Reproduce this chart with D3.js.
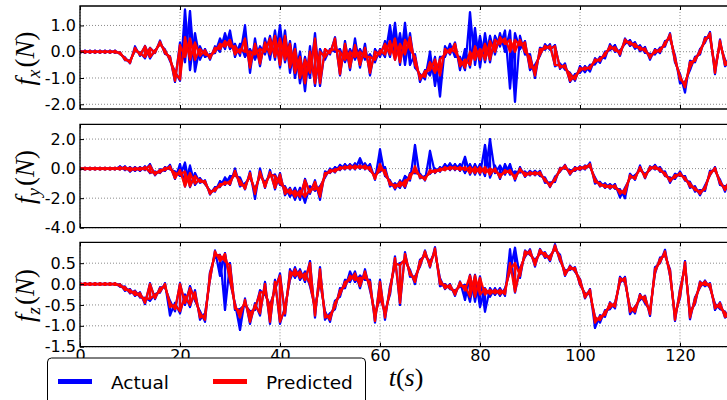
<!DOCTYPE html>
<html>
<head>
<meta charset="utf-8">
<script src="https://cdn.jsdelivr.net/npm/d3@7"></script>
<style>
  html, body { margin: 0; padding: 0; background: #fff; }
  svg { display: block; overflow: hidden; }
</style>
</head>
<body>
<div id="container"></div>
<script>
// time axis, one sample per second
const times = d3.range(0, 131);

const xTicks = [0, 20, 40, 60, 80, 100, 120];
const fxTicks = [1.0, 0.0, -1.0, -2.0];
const fyTicks = [2.0, 0.0, -2.0, -4.0];
const fzTicks = [0.5, 0.0, -0.5, -1.0, -1.5];

// f_x : band (low / high) of the predicted and actual force
const fxPredLo = [-0.03,-0.03,-0.03,-0.03,-0.03,-0.03,-0.03,-0.03,-0.08,-0.3,
  -0.42,0.05,-0.12,-0.2,-0.2,-0.03,0.3,-0.05,-0.3,-1.1,
  -1.05,-0.2,-0.3,-0.3,-0.15,-0.1,-0.25,0.0,0.1,0.2,
  0.2,-0.1,-0.05,0.0,-0.6,-0.1,-0.45,0.0,-0.1,-0.2,
  -0.5,-0.3,-0.6,-0.8,-1.0,-1.2,-0.8,-1.2,-1.2,-0.2,
  -0.05,0.1,-0.85,-0.3,-0.6,-0.2,-0.5,-0.2,-0.8,-0.3,
  -0.1,-0.1,-0.1,-0.3,-0.4,-0.1,0.1,-0.5,-1.05,-0.95,
  -0.7,-0.8,-0.9,-0.1,-0.05,0.0,-0.55,-0.6,-0.5,-0.3,
  -0.3,-0.3,-0.3,0.0,0.3,0.3,0.0,0.0,0.25,0.0,
  -0.6,-0.9,-0.1,0.12,0.12,-0.5,-0.6,-0.62,-1.1,-1.05,
  -0.72,-0.68,-0.65,-0.38,-0.34,-0.15,0.12,0.05,-0.1,0.36,
  0.28,0.18,0.08,0.02,-0.24,-0.04,0.0,0.25,0.56,-0.35,
  -1.05,-1.35,-0.6,-0.35,-0.05,0.4,0.58,-0.8,0.32,-0.5,-0.55];
const fxPredHi = [0.03,0.03,0.03,0.03,0.03,0.03,0.03,0.03,-0.03,-0.24,
  -0.36,0.15,-0.05,0.2,0.13,0.03,0.38,0.05,-0.2,-0.8,
  0.25,0.55,0.5,0.35,0.1,0.05,-0.15,0.15,0.3,0.4,
  0.45,0.2,0.1,0.5,0.0,0.3,0.1,0.35,0.5,0.6,
  0.5,0.6,0.3,0.1,-0.2,-0.3,0.0,0.5,0.0,0.1,
  0.05,0.5,0.0,0.3,0.0,0.25,0.0,0.15,-0.2,0.0,
  0.05,0.3,0.4,0.5,0.3,0.45,0.55,-0.2,-0.9,-0.75,
  -0.4,-0.3,-0.3,0.1,0.1,0.3,-0.3,-0.3,0.0,0.2,
  0.1,0.3,0.4,0.45,0.55,0.5,0.45,0.45,0.45,0.35,
  -0.2,-0.6,0.1,0.22,0.22,0.2,-0.52,-0.52,-0.85,-0.92,
  -0.62,-0.6,-0.57,-0.3,-0.26,-0.05,0.22,0.17,0.0,0.46,
  0.38,0.3,0.18,0.12,-0.14,0.06,0.1,0.35,0.66,-0.22,
  -0.92,-1.2,-0.4,-0.25,0.05,0.5,0.7,-0.65,0.42,-0.35,-0.45];
const fxActLo = [-0.04,-0.04,-0.04,-0.04,-0.04,-0.04,-0.04,-0.04,-0.09,-0.32,
  -0.44,0.03,-0.15,-0.25,-0.25,-0.05,0.28,-0.08,-0.35,-1.15,
  -1.1,-0.4,-0.7,-0.75,-0.3,-0.2,-0.3,-0.05,0.0,0.1,
  0.1,-0.2,-0.15,-0.2,-0.8,-0.3,-0.55,-0.1,-0.3,-0.3,
  -0.6,-0.4,-0.8,-1.0,-1.2,-1.5,-1.0,-1.3,-1.3,-0.3,
  -0.1,0.0,-0.9,-0.4,-0.7,-0.3,-0.6,-0.3,-0.9,-0.4,
  -0.2,-0.2,-0.2,-0.3,-0.5,-0.5,-0.5,-0.6,-1.15,-1.05,
  -0.9,-1.3,-1.7,-0.2,-0.1,-0.2,-0.7,-0.7,-0.6,-0.5,
  -0.6,-0.4,-0.4,-0.1,0.2,0.0,-1.4,-1.9,0.1,-0.1,
  -0.7,-1.0,-0.15,0.08,0.08,-0.55,-0.65,-0.68,-1.15,-1.1,
  -0.8,-0.78,-0.75,-0.48,-0.42,-0.25,0.06,0.0,-0.15,0.3,
  0.22,0.12,0.02,-0.04,-0.3,-0.1,-0.05,0.2,0.5,-0.4,
  -1.2,-1.55,-0.7,-0.4,-0.1,0.35,0.52,-0.85,0.28,-0.55,-0.6];
const fxActHi = [0.04,0.04,0.04,0.04,0.04,0.04,0.04,0.04,-0.02,-0.22,
  -0.34,0.2,-0.03,0.22,0.15,0.05,0.42,0.08,-0.18,-0.75,
  0.35,1.6,1.55,0.7,0.2,0.1,-0.1,0.2,0.5,0.7,
  0.8,0.3,0.3,1.0,0.1,0.5,0.2,0.5,0.6,0.8,
  1.0,0.8,0.4,0.3,0.0,-0.2,0.2,0.7,0.1,0.1,
  0.1,0.55,0.1,0.4,0.1,0.5,0.1,0.3,-0.1,0.1,
  0.1,0.4,1.0,1.1,0.7,1.1,0.7,-0.1,-0.85,-0.7,
  0.0,-0.2,-0.2,0.2,0.3,0.35,-0.2,0.1,1.5,0.9,
  0.6,0.7,0.6,0.6,0.7,0.8,0.8,0.7,0.6,0.4,
  -0.1,-0.5,0.15,0.28,0.28,0.25,-0.45,-0.45,-0.8,-0.85,
  -0.55,-0.55,-0.5,-0.25,-0.2,0.0,0.28,0.25,0.05,0.5,
  0.44,0.36,0.24,0.18,-0.08,0.1,0.15,0.4,0.7,-0.15,
  -0.85,-1.15,-0.35,-0.2,0.1,0.55,0.75,-0.6,0.46,-0.3,-0.4];

// f_y
const fyPredLo = [-0.05,-0.05,-0.05,-0.05,-0.05,-0.05,-0.05,-0.05,-0.05,-0.05,
  -0.15,-0.1,-0.1,-0.05,-0.25,-0.4,-0.25,-0.1,0.0,-0.65,
  -0.4,-1.2,-1.2,-1.0,-0.9,-1.0,-1.7,-1.5,-1.2,-1.05,
  -1.05,-0.4,-1.1,-1.35,-0.5,-1.7,-0.4,-1.25,-0.4,-1.3,
  -1.0,-1.7,-1.7,-1.9,-1.9,-1.9,-1.6,-1.4,-1.9,-0.5,
  -0.25,-0.2,-0.05,0.0,0.0,0.0,0.05,0.0,-0.1,-0.7,
  -0.1,-0.4,-1.1,-1.3,-1.2,-1.2,-0.7,-0.2,-0.6,-0.75,
  -0.3,-0.25,-0.15,-0.1,-0.05,-0.05,-0.1,-0.1,-0.3,-0.3,
  -0.3,-0.3,-0.4,-0.2,-0.6,-0.3,-0.3,-0.7,-0.15,-0.5,
  -0.4,-0.4,-0.4,-0.85,-1.2,-0.8,-0.15,0.05,-0.35,-0.1,
  -0.05,0.0,0.15,-0.9,-1.15,-1.25,-1.3,-1.3,-1.7,-1.7,
  -0.6,-0.7,-0.05,-0.6,-0.05,0.0,-0.15,-0.45,-0.85,-0.6,
  -0.45,-0.75,-1.2,-1.45,-1.7,-1.4,-0.4,-0.1,-1.0,-1.45,-0.9];
const fyPredHi = [0.05,0.05,0.05,0.05,0.05,0.05,0.05,0.05,0.1,0.1,
  0.05,0.05,0.05,0.1,0.2,-0.25,-0.1,0.05,0.15,-0.3,
  -0.1,-0.2,-0.3,-0.5,-0.75,-0.85,-1.55,-1.35,-1.05,-0.9,
  -0.85,-0.15,-0.8,-1.15,-0.3,-1.5,-0.2,-1.05,-0.25,-0.5,
  -0.4,-1.3,-1.4,-1.5,-1.5,-0.8,-1.4,-0.9,-1.3,-0.3,
  -0.1,-0.05,0.1,0.15,0.2,0.2,0.2,0.2,0.1,-0.5,
  0.3,-0.1,-0.9,-1.1,-0.9,-0.8,-0.4,0.15,-0.45,-0.6,
  -0.1,-0.1,0.0,0.1,0.12,0.12,0.1,0.1,0.1,0.1,
  0.1,0.1,0.0,0.0,-0.4,-0.1,-0.1,-0.5,0.0,-0.3,
  -0.25,-0.25,-0.25,-0.7,-1.05,-0.65,0.0,0.2,-0.2,0.05,
  0.1,0.15,0.3,-0.7,-1.0,-1.1,-1.15,-1.15,-1.5,-1.4,
  -0.45,-0.55,0.1,-0.45,0.1,0.15,0.0,-0.3,-0.7,-0.45,
  -0.3,-0.6,-1.0,-1.3,-1.55,-1.25,-0.25,0.05,-0.85,-1.3,-0.75];
const fyActLo = [-0.05,-0.05,-0.05,-0.05,-0.05,-0.05,-0.05,-0.05,-0.05,-0.1,
  -0.2,-0.15,-0.15,-0.1,-0.3,-0.45,-0.3,-0.15,-0.05,-0.7,
  -0.5,-1.2,-1.25,-1.1,-0.95,-1.05,-1.75,-1.55,-1.25,-1.1,
  -1.1,-0.5,-1.2,-1.4,-0.6,-2.05,-0.5,-1.3,-0.5,-1.4,
  -1.1,-1.8,-1.9,-2.1,-2.1,-2.3,-1.7,-1.5,-2.1,-0.6,
  -0.3,-0.25,-0.1,-0.05,-0.05,-0.05,0.0,-0.05,-0.15,-0.75,
  -0.2,-0.5,-1.2,-1.4,-1.3,-1.3,-0.8,-0.3,-0.65,-0.8,
  -0.35,-0.3,-0.2,-0.1,-0.1,-0.1,-0.15,-0.3,-0.4,-0.4,
  -0.4,-0.5,-0.6,-0.3,-0.7,-0.4,-0.4,-0.8,-0.25,-0.55,
  -0.45,-0.45,-0.5,-0.95,-1.25,-0.9,-0.2,0.0,-0.4,-0.15,
  -0.1,-0.05,0.1,-1.0,-1.2,-1.3,-1.35,-1.35,-1.95,-2.0,
  -0.65,-0.75,-0.1,-0.65,-0.1,-0.05,-0.2,-0.5,-0.95,-0.7,
  -0.5,-0.8,-1.3,-1.55,-1.8,-1.5,-0.45,-0.15,-1.1,-1.55,-1.0];
const fyActHi = [0.05,0.05,0.05,0.05,0.05,0.05,0.05,0.05,0.15,0.15,
  0.1,0.1,0.1,0.15,0.3,-0.2,-0.05,0.1,0.25,-0.2,
  0.3,0.4,0.2,-0.3,-0.65,-0.8,-1.5,-1.25,-0.85,-0.6,
  -0.5,0.0,-0.6,-1.0,-0.2,-1.4,0.0,-0.9,-0.1,-0.4,
  -0.3,-1.2,-1.3,-1.3,-1.3,-0.7,-1.2,-0.8,-1.2,-0.2,
  0.0,0.1,0.25,0.3,0.3,0.35,0.7,0.35,0.3,-0.4,
  1.3,0.1,-0.8,-1.0,-0.8,-0.5,-0.3,1.6,-0.35,-0.5,
  1.2,0.0,0.1,0.3,0.35,0.3,0.3,0.8,0.3,0.3,
  0.3,1.6,2.0,0.2,0.2,0.3,0.3,-0.2,0.1,-0.2,
  -0.15,-0.15,-0.15,-0.6,-0.95,-0.55,0.05,0.25,-0.1,0.1,
  0.15,0.2,0.4,-0.6,-0.9,-1.0,-1.05,-1.05,-1.4,-1.3,
  -0.35,-0.45,0.2,-0.35,0.15,0.25,0.1,-0.2,-0.6,-0.35,
  -0.2,-0.5,-0.9,-1.2,-1.45,-1.15,-0.15,0.1,-0.75,-1.2,-0.65];

// f_z
const fzPredLo = [-0.02,-0.02,-0.02,-0.02,-0.02,-0.02,-0.02,-0.02,-0.05,-0.14,
  -0.2,-0.26,-0.3,-0.45,-0.35,-0.34,-0.18,-0.06,-0.55,-0.6,
  -0.65,-0.45,-0.5,-0.35,-0.8,-0.85,0.12,0.7,0.55,0.55,
  0.1,-0.58,-0.8,-0.46,-0.9,-0.58,-0.7,-0.2,-0.9,-0.1,
  -0.9,-0.7,0.15,0.2,0.15,0.1,0.0,-0.75,0.1,-0.8,
  -0.85,-0.55,-0.25,-0.05,0.1,0.1,-0.05,0.15,-0.1,-0.88,
  -0.3,-0.8,-0.2,0.5,-0.45,0.6,0.22,0.05,0.45,0.7,
  0.42,0.78,0.0,-0.1,-0.1,-0.25,-0.04,-0.15,-0.3,-0.3,
  -0.25,-0.25,-0.24,-0.22,-0.24,-0.24,0.35,-0.18,0.2,0.68,
  0.72,0.45,0.74,0.66,0.58,0.85,0.58,0.22,0.36,0.32,
  0.0,-0.32,-0.22,-0.92,-0.86,-0.74,-0.56,-0.54,0.06,0.06,
  -0.66,-0.66,-0.34,-0.42,-0.72,0.28,0.52,0.7,0.22,-0.85,
  -0.3,0.42,-0.8,-0.45,-0.06,-0.02,-0.08,-0.58,-0.56,-0.78,-0.85];
const fzPredHi = [0.02,0.02,0.02,0.02,0.02,0.02,0.02,0.02,-0.01,-0.08,
  -0.14,-0.18,-0.22,-0.35,0.0,-0.26,-0.1,0.0,-0.45,-0.5,
  0.0,-0.3,-0.1,-0.2,-0.7,-0.75,0.25,0.78,0.68,0.72,
  0.45,-0.5,-0.65,-0.38,-0.7,-0.5,-0.2,0.0,-0.55,0.05,
  0.2,-0.6,0.3,0.35,0.3,0.25,0.5,-0.6,0.35,-0.7,
  -0.75,-0.45,-0.15,0.05,0.2,0.25,0.15,0.3,0.05,-0.75,
  0.05,-0.7,-0.1,0.62,0.45,0.72,0.3,0.15,0.55,0.78,
  0.5,0.85,0.1,-0.02,-0.02,-0.17,0.04,-0.05,0.2,0.2,
  0.15,-0.12,-0.14,-0.14,-0.14,-0.14,0.5,0.5,0.35,0.78,
  0.8,0.55,0.82,0.74,0.66,0.92,0.66,0.3,0.42,0.38,
  0.1,-0.24,-0.14,-0.8,-0.78,-0.66,-0.46,-0.46,0.14,0.14,
  -0.56,-0.56,-0.26,-0.3,-0.64,0.36,0.6,0.78,0.32,-0.75,
  -0.15,0.52,-0.7,-0.35,0.04,0.06,0.0,-0.5,-0.46,-0.68,-0.76];
const fzActLo = [-0.02,-0.02,-0.02,-0.02,-0.02,-0.02,-0.02,-0.02,-0.06,-0.16,
  -0.22,-0.28,-0.32,-0.48,-0.4,-0.36,-0.2,-0.08,-0.75,-0.65,
  -0.7,-0.5,-0.55,-0.4,-0.85,-0.9,0.1,0.68,0.2,-0.62,
  0.05,-0.62,-1.1,-0.5,-0.95,-0.62,-0.75,-0.25,-0.95,-0.15,
  -0.95,-0.75,0.1,0.15,0.1,0.05,-0.05,-0.8,0.05,-0.85,
  -0.9,-0.6,-0.3,-0.1,0.05,0.05,-0.1,0.1,-0.15,-0.92,
  -0.35,-0.85,-0.25,0.45,-0.5,0.55,0.18,0.0,0.42,0.68,
  0.4,0.76,-0.05,-0.12,-0.12,-0.28,-0.06,-0.38,-0.42,-0.42,
  -0.55,-0.66,-0.3,-0.26,-0.28,-0.28,0.3,-0.2,0.15,0.65,
  0.7,0.42,0.72,0.63,0.55,0.83,0.55,0.2,0.34,0.3,
  -0.02,-0.34,-0.25,-1.05,-0.92,-0.78,-0.6,-0.58,0.03,0.03,
  -0.72,-0.7,-0.38,-0.46,-0.76,0.25,0.5,0.68,0.2,-0.88,
  -0.33,0.4,-0.84,-0.48,-0.08,-0.05,-0.1,-0.62,-0.6,-0.8,-0.88];
const fzActHi = [0.02,0.02,0.02,0.02,0.02,0.02,0.02,0.02,0.0,-0.06,
  -0.12,-0.16,-0.2,-0.33,0.02,-0.24,-0.08,0.02,-0.4,-0.45,
  0.02,-0.25,-0.05,-0.15,-0.65,-0.7,0.28,0.8,0.7,0.74,
  0.5,-0.46,-0.6,-0.35,-0.65,-0.46,-0.15,0.05,-0.5,0.1,
  0.25,-0.55,0.35,0.4,0.35,0.3,0.55,-0.55,0.4,-0.65,
  -0.7,-0.4,-0.1,0.1,0.3,0.3,0.2,0.35,0.1,-0.7,
  0.1,-0.65,-0.05,0.66,0.5,0.76,0.34,0.18,0.58,0.8,
  0.54,0.88,0.14,0.0,0.0,-0.15,0.06,-0.02,0.22,0.22,
  0.18,-0.1,-0.1,-0.1,-0.1,-0.1,0.83,0.87,0.38,0.8,
  0.83,0.58,0.84,0.76,0.68,0.95,0.7,0.33,0.44,0.4,
  0.12,-0.22,-0.12,-0.78,-0.75,-0.63,-0.44,-0.44,0.17,0.17,
  -0.54,-0.54,-0.24,-0.28,-0.62,0.4,0.63,0.82,0.35,-0.72,
  -0.12,0.55,-0.66,-0.32,0.06,0.08,0.02,-0.47,-0.44,-0.66,-0.74];

// ukuran dan posisi panel
const width = 727;
const height = 400;
const left = 80;

const panels = [
  { id: "fx", sub: "x", top: 6, bottom: 109, domain: [-2.18, 1.74], ticks: fxTicks,
    predLo: fxPredLo, predHi: fxPredHi, actLo: fxActLo, actHi: fxActHi },
  { id: "fy", sub: "y", top: 124.3, bottom: 227.7, domain: [-4, 3], ticks: fyTicks,
    predLo: fyPredLo, predHi: fyPredHi, actLo: fyActLo, actHi: fyActHi },
  { id: "fz", sub: "z", top: 242.3, bottom: 346.7, domain: [-1.5, 1.0], ticks: fzTicks,
    predLo: fzPredLo, predHi: fzPredHi, actLo: fzActLo, actHi: fzActHi }
];

const svg = d3
  .select("#container")
  .append("svg")
  .attr("width", width)
  .attr("height", height);

const xScale = d3.scaleLinear().domain([0, 130]).range([left, 730]);
const fmt = (d) => d.toFixed(1);

panels.forEach((p, k) => {
  const yScale = d3.scaleLinear().domain(p.domain).range([p.bottom, p.top]);
  const g = svg.append("g").attr("id", p.id);

  // grid titik-titik
  g.append("g")
    .selectAll("line")
    .data(p.ticks)
    .enter()
    .append("line")
    .attr("x1", left)
    .attr("x2", width)
    .attr("y1", (d) => yScale(d))
    .attr("y2", (d) => yScale(d))
    .attr("stroke", "#8a8a8a")
    .attr("stroke-dasharray", "1,2");
  g.append("g")
    .selectAll("line")
    .data(xTicks)
    .enter()
    .append("line")
    .attr("x1", (d) => xScale(d))
    .attr("x2", (d) => xScale(d))
    .attr("y1", p.top)
    .attr("y2", p.bottom)
    .attr("stroke", "#8a8a8a")
    .attr("stroke-dasharray", "1,2");

  // clip
  g.append("clipPath")
    .attr("id", "clip-" + p.id)
    .append("rect")
    .attr("x", left)
    .attr("y", p.top)
    .attr("width", 730 - left)
    .attr("height", p.bottom - p.top);

  // garis bergerigi: tiap detik garis tegak dari nilai bawah ke atas,
  // disambung silang ke detik berikutnya (dua arah)
  const jagged = (lo, hi, flip) => {
    const pts = [];
    times.forEach((t, i) => {
      if (flip) {
        pts.push([t, hi[i]]);
        pts.push([t, lo[i]]);
      } else {
        pts.push([t, lo[i]]);
        pts.push([t, hi[i]]);
      }
    });
    return d3.line()
      .x((d) => xScale(d[0]))
      .y((d) => yScale(d[1]))(pts);
  };

  const plot = g.append("g").attr("clip-path", `url(#clip-${p.id})`);
  const series = [
    { lo: p.actLo, hi: p.actHi, color: "#0000ff" },
    { lo: p.predLo, hi: p.predHi, color: "#ff0000" }
  ];
  series.forEach((s) => {
    [false, true].forEach((flip) => {
      plot.append("path")
        .attr("d", jagged(s.lo, s.hi, flip))
        .attr("fill", "none")
        .attr("stroke", s.color)
        .attr("stroke-width", 2.2)
        .attr("stroke-linejoin", "round");
    });
  });

  // sumbu y
  const yAxis = d3.axisLeft(yScale)
    .tickValues(p.ticks)
    .tickFormat(fmt)
    .tickSizeInner(-4)
    .tickSizeOuter(0)
    .tickPadding(4);
  const ya = g.append("g").attr("transform", `translate(${left},0)`).call(yAxis);
  ya.select(".domain").remove();
  ya.selectAll("text").attr("font-family", "DejaVu Sans").attr("font-size", 16).attr("fill", "#000");
  ya.selectAll("line").attr("stroke", "#000");

  // tick x di atas dan bawah
  const xBottom = d3.axisBottom(xScale)
    .tickValues(xTicks)
    .tickSizeInner(-4)
    .tickSizeOuter(0)
    .tickPadding(3)
    .tickFormat(k === 2 ? d3.format("d") : () => "");
  const xb = g.append("g").attr("transform", `translate(0,${p.bottom})`).call(xBottom);
  xb.select(".domain").remove();
  xb.selectAll("text").attr("font-family", "DejaVu Sans").attr("font-size", 16).attr("fill", "#000");
  xb.selectAll("line").attr("stroke", "#000");

  const xTop = d3.axisTop(xScale).tickValues(xTicks).tickSizeInner(-4).tickSizeOuter(0).tickFormat(() => "");
  const xt = g.append("g").attr("transform", `translate(0,${p.top})`).call(xTop);
  xt.select(".domain").remove();
  xt.selectAll("line").attr("stroke", "#000");

  // garis tepi
  g.append("path")
    .attr("d", `M${width + 2},${p.top}H${left}V${p.bottom}H${width + 2}`)
    .attr("fill", "none")
    .attr("stroke", "#000")
    .attr("stroke-width", 1.3);

  // label y: f_x(N)
  const lab = g.append("text")
    .attr("transform", `translate(34,${(p.top + p.bottom) / 2 + 1}) rotate(-90)`)
    .attr("text-anchor", "middle")
    .attr("font-family", "Liberation Serif")
    .attr("font-size", 27)
    .attr("fill", "#000");
  lab.append("tspan").attr("font-style", "italic").text("f");
  lab.append("tspan").attr("font-style", "italic").attr("font-size", 19).attr("dy", 6).text(p.sub);
  lab.append("tspan").attr("dy", -6).attr("dx", 2).text("(");
  lab.append("tspan").attr("font-style", "italic").text("N");
  lab.append("tspan").text(")");
});

// label sumbu x
const tl = svg.append("text")
  .attr("x", 406)
  .attr("y", 386)
  .attr("text-anchor", "middle")
  .attr("font-family", "Liberation Serif")
  .attr("font-size", 26)
  .attr("fill", "#000");
tl.append("tspan").attr("font-style", "italic").text("t");
tl.append("tspan").text("(");
tl.append("tspan").attr("font-style", "italic").text("s");
tl.append("tspan").text(")");

// legenda
const legend = svg.append("g").attr("id", "legend");
legend.append("rect")
  .attr("x", 47.5)
  .attr("y", 358)
  .attr("width", 318)
  .attr("height", 60)
  .attr("rx", 4)
  .attr("fill", "#fff")
  .attr("stroke", "#000")
  .attr("stroke-width", 1);
const legendItems = [
  { name: "Actual", color: "#0000ff", x: 58 },
  { name: "Predicted", color: "#ff0000", x: 213 }
];
legend.selectAll(".item")
  .data(legendItems)
  .enter()
  .append("line")
  .attr("x1", (d) => d.x)
  .attr("x2", (d) => d.x + 34)
  .attr("y1", 381.5)
  .attr("y2", 381.5)
  .attr("stroke", (d) => d.color)
  .attr("stroke-width", 5);
legend.selectAll(".label")
  .data(legendItems)
  .enter()
  .append("text")
  .attr("x", (d) => d.x + 53)
  .attr("y", 388.5)
  .attr("font-family", "DejaVu Sans")
  .attr("font-size", 18.5)
  .attr("fill", "#000")
  .text((d) => d.name);
</script>
</body>
</html>
